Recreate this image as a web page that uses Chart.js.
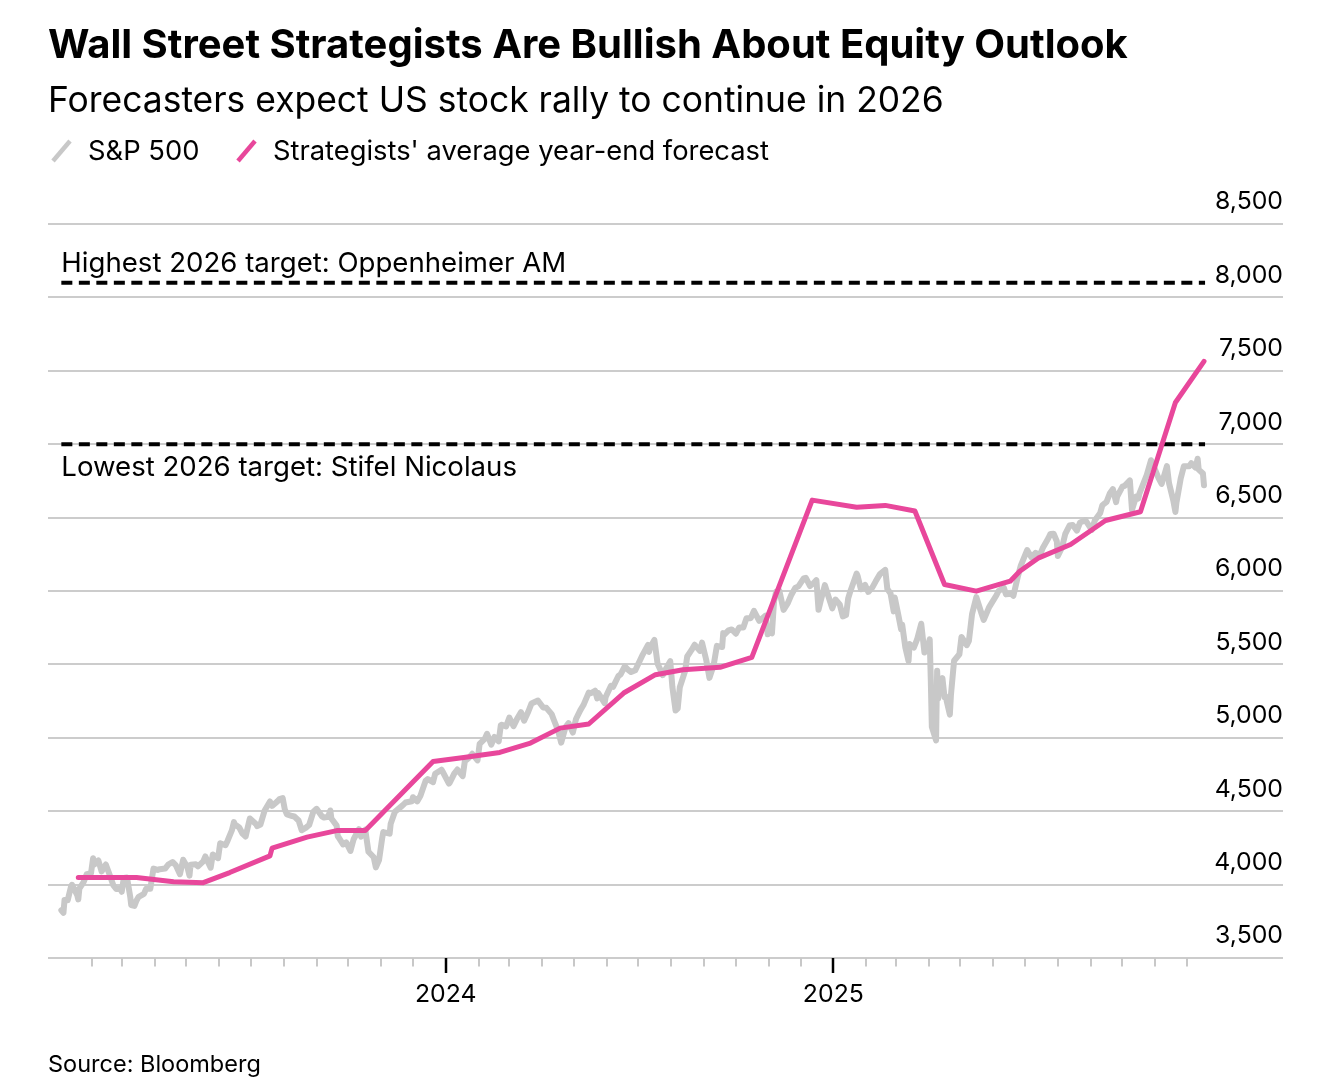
<!DOCTYPE html>
<html lang="en"><head><meta charset="utf-8"><title>Wall Street Strategists Are Bullish About Equity Outlook</title>
<script src="https://cdn.jsdelivr.net/npm/chart.js@4.4.1/dist/chart.umd.min.js"></script>
<style>
html,body{margin:0;padding:0;background:#fff}
body{width:1336px;height:1084px;position:relative;overflow:hidden;font-family:Inter,"Liberation Sans",sans-serif;color:#000}
#chartBox{position:absolute;left:0;top:0;width:1336px;height:1084px}
.txt{position:absolute;white-space:nowrap;line-height:1;margin:0;font-weight:400}
#title{font-weight:700}
#legIcons{position:absolute;left:0;top:0}
</style></head><body>
<div id="chartBox"><canvas id="c" width="1336" height="1084"></canvas></div>
<h1 class="txt" id="title">Wall Street Strategists Are Bullish About Equity Outlook</h1>
<div class="txt" id="subtitle">Forecasters expect US stock rally to continue in 2026</div>
<svg id="legIcons" width="1336" height="200">
  <line x1="53" y1="161" x2="70" y2="141" stroke="#c8c8c8" stroke-width="4.5"/>
  <line x1="238" y1="161" x2="255" y2="141" stroke="#e8479b" stroke-width="4.5"/>
</svg>
<div class="txt" id="leg1">S&amp;P 500</div>
<div class="txt" id="leg2">Strategists' average year-end forecast</div>
<div class="txt" id="source">Source: Bloomberg</div>
<script>
// ---------------- DATA ----------------
const spDates = [
'2023-01-03','2023-01-05','2023-01-06','2023-01-09','2023-01-12','2023-01-13','2023-01-18','2023-01-19','2023-01-20','2023-01-24','2023-01-27','2023-01-31',
'2023-02-02','2023-02-03','2023-02-07','2023-02-10','2023-02-14','2023-02-17','2023-02-21','2023-02-24','2023-02-28',
'2023-03-01','2023-03-03','2023-03-06','2023-03-09','2023-03-10','2023-03-13','2023-03-15','2023-03-17','2023-03-22','2023-03-24','2023-03-28','2023-03-31',
'2023-04-04','2023-04-06','2023-04-11','2023-04-14','2023-04-18','2023-04-21','2023-04-25','2023-04-28',
'2023-05-02','2023-05-04','2023-05-05','2023-05-10','2023-05-12','2023-05-17','2023-05-19','2023-05-24','2023-05-26','2023-05-31',
'2023-06-02','2023-06-07','2023-06-09','2023-06-13','2023-06-15','2023-06-16','2023-06-20','2023-06-23','2023-06-26','2023-06-30',
'2023-07-06','2023-07-07','2023-07-10','2023-07-14','2023-07-19','2023-07-21','2023-07-26','2023-07-28','2023-07-31',
'2023-08-02','2023-08-04','2023-08-09','2023-08-11','2023-08-15','2023-08-18','2023-08-22','2023-08-25','2023-08-29',
'2023-09-01','2023-09-06','2023-09-08','2023-09-12','2023-09-14','2023-09-15','2023-09-20','2023-09-21','2023-09-22','2023-09-26','2023-09-29',
'2023-10-03','2023-10-06','2023-10-11','2023-10-13','2023-10-17','2023-10-20','2023-10-25','2023-10-27','2023-10-30',
'2023-11-02','2023-11-03','2023-11-09','2023-11-10','2023-11-14','2023-11-17','2023-11-21','2023-11-24','2023-11-30',
'2023-12-01','2023-12-05','2023-12-08','2023-12-13','2023-12-15','2023-12-20','2023-12-22','2023-12-28','2023-12-29',
'2024-01-04','2024-01-05','2024-01-09','2024-01-12','2024-01-17','2024-01-19','2024-01-23','2024-01-26','2024-01-31',
'2024-02-02','2024-02-07','2024-02-09','2024-02-13','2024-02-16','2024-02-20','2024-02-22','2024-02-23','2024-02-27',
'2024-03-01','2024-03-05','2024-03-08','2024-03-12','2024-03-15','2024-03-19','2024-03-22','2024-03-28',
'2024-04-02','2024-04-05','2024-04-10','2024-04-12','2024-04-16','2024-04-19','2024-04-23','2024-04-26','2024-04-30',
'2024-05-03','2024-05-07','2024-05-10','2024-05-15','2024-05-17','2024-05-21','2024-05-23','2024-05-24','2024-05-30','2024-05-31',
'2024-06-05','2024-06-07','2024-06-12','2024-06-14','2024-06-18','2024-06-21','2024-06-24','2024-06-28',
'2024-07-05','2024-07-10','2024-07-11','2024-07-12','2024-07-16','2024-07-19','2024-07-24','2024-07-26','2024-07-31',
'2024-08-02','2024-08-05','2024-08-07','2024-08-09','2024-08-14','2024-08-16','2024-08-20','2024-08-23','2024-08-28','2024-08-30',
'2024-09-03','2024-09-06','2024-09-10','2024-09-13','2024-09-18','2024-09-19','2024-09-20','2024-09-24','2024-09-27',
'2024-10-01','2024-10-04','2024-10-08','2024-10-11','2024-10-15','2024-10-18','2024-10-23','2024-10-25','2024-10-29','2024-10-31',
'2024-11-01','2024-11-04','2024-11-06','2024-11-08','2024-11-11','2024-11-15','2024-11-19','2024-11-22','2024-11-26','2024-11-29',
'2024-12-04','2024-12-06','2024-12-10','2024-12-13','2024-12-16','2024-12-18','2024-12-20','2024-12-24','2024-12-27','2024-12-31',
'2025-01-03','2025-01-07','2025-01-10','2025-01-13','2025-01-15','2025-01-17','2025-01-23','2025-01-24','2025-01-27','2025-01-31',
'2025-02-03','2025-02-07','2025-02-10','2025-02-14','2025-02-19','2025-02-21','2025-02-24','2025-02-27','2025-02-28',
'2025-03-03','2025-03-06','2025-03-07','2025-03-10','2025-03-13','2025-03-14','2025-03-18','2025-03-21','2025-03-25','2025-03-28','2025-03-31',
'2025-04-02','2025-04-03','2025-04-04','2025-04-08','2025-04-09','2025-04-10','2025-04-11','2025-04-14','2025-04-16','2025-04-17','2025-04-21','2025-04-22','2025-04-25','2025-04-30',
'2025-05-02','2025-05-07','2025-05-09','2025-05-12','2025-05-16','2025-05-21','2025-05-23','2025-05-28','2025-05-30',
'2025-06-04','2025-06-06','2025-06-11','2025-06-13','2025-06-18','2025-06-20','2025-06-24','2025-06-27',
'2025-07-03','2025-07-07','2025-07-11','2025-07-15','2025-07-18','2025-07-23','2025-07-25','2025-07-28','2025-07-31',
'2025-08-01','2025-08-05','2025-08-08','2025-08-12','2025-08-15','2025-08-19','2025-08-22','2025-08-27','2025-08-29',
'2025-09-02','2025-09-05','2025-09-10','2025-09-12','2025-09-16','2025-09-19','2025-09-22','2025-09-25','2025-09-26',
'2025-10-01','2025-10-03','2025-10-08','2025-10-10','2025-10-14','2025-10-16','2025-10-17','2025-10-21','2025-10-24','2025-10-28','2025-10-31',
'2025-11-04','2025-11-07','2025-11-12','2025-11-14','2025-11-18','2025-11-20','2025-11-21','2025-11-25','2025-11-28',
'2025-12-03','2025-12-05','2025-12-09','2025-12-11','2025-12-12','2025-12-16','2025-12-17'
];
const spValues = [
3825,3808,3895,3893,3983,3999,3929,3899,3972,4017,4071,4077,
4180,4136,4164,4090,4137,4079,3997,3970,3970,
3951,4045,4048,3919,3861,3855,3892,3917,3937,3971,3971,4109,
4100,4105,4109,4137,4154,4133,4071,4169,
4119,4061,4136,4138,4124,4158,4192,4115,4205,4180,
4282,4268,4299,4369,4426,4409,4389,4348,4328,4450,
4411,4398,4409,4505,4566,4536,4567,4582,4589,
4513,4478,4467,4464,4437,4370,4388,4406,4497,
4516,4465,4457,4462,4505,4450,4402,4330,4320,4274,4288,
4229,4309,4377,4327,4374,4224,4186,4117,4167,
4318,4358,4347,4415,4496,4514,4538,4559,4568,
4595,4567,4604,4707,4719,4698,4755,4783,4770,
4688,4697,4756,4784,4739,4840,4865,4891,4846,
4959,4995,5027,4953,5006,4976,5087,5089,5078,
5137,5079,5124,5175,5117,5179,5234,5254,
5206,5204,5161,5123,5051,4967,5071,5100,5036,
5128,5187,5223,5308,5303,5321,5268,5305,5236,5278,
5354,5347,5421,5431,5487,5465,5448,5460,
5567,5633,5585,5615,5667,5505,5427,5459,5522,
5346,5186,5199,5344,5455,5554,5597,5634,5592,5648,
5529,5408,5496,5626,5618,5713,5703,5732,5738,
5709,5751,5751,5815,5815,5865,5797,5808,5832,5705,
5729,5712,5929,5995,6001,5871,5917,5969,6021,6032,
6086,6090,6034,6051,6074,5872,5931,6040,5971,5882,
5942,5909,5827,5836,5950,5997,6119,6101,6012,6041,
5994,6026,6066,6115,6144,6013,5983,5861,5955,
5850,5739,5770,5615,5522,5639,5615,5668,5777,5581,5612,
5671,5397,5074,4982,5457,5268,5363,5406,5276,5283,5158,5288,5525,5569,
5687,5631,5660,5844,5958,5845,5803,5889,5912,
5971,6000,6022,5977,5981,5968,6092,6173,
6279,6230,6260,6244,6297,6359,6389,6390,6339,
6238,6299,6389,6446,6450,6411,6467,6482,6460,
6416,6482,6532,6584,6607,6664,6694,6605,6644,
6711,6716,6753,6553,6644,6630,6664,6736,6792,6891,6840,
6771,6729,6851,6734,6617,6538,6603,6766,6849,
6850,6870,6840,6901,6827,6800,6721
];
const fcDates = [
'2023-01-19','2023-03-15','2023-04-19','2023-05-17','2023-06-11','2023-07-19','2023-07-21','2023-08-23','2023-09-20','2023-10-17','2023-12-20',
'2024-01-18','2024-02-21','2024-03-21','2024-04-18','2024-05-15','2024-06-17','2024-07-17','2024-08-12','2024-09-16','2024-10-16','2024-12-12',
'2025-01-23','2025-02-19','2025-03-19','2025-04-16','2025-05-16','2025-06-17','2025-06-26','2025-07-14','2025-08-13','2025-09-15','2025-10-18','2025-11-20','2025-12-17'
];
const fcValues = [
4048,4048,4020,4013,4082,4196,4248,4323,4368,4368,4839,
4866,4900,4964,5066,5094,5305,5430,5464,5480,5548,6619,
6571,6583,6545,6044,5999,6067,6135,6226,6317,6480,6540,7284,7564
];
const targetLabels = ['Highest 2026 target: Oppenheimer AM', 'Lowest 2026 target: Stifel Nicolaus'];
const targetValues = [8100, 7000];
const targetSpan = ['2023-01-03', '2025-12-18'];
const yTicks = [3500, 4000, 4500, 5000, 5500, 6000, 6500, 7000, 7500, 8000, 8500];
const yearLabels = ['2024', '2025'];

// ---------------- HELPERS ----------------
const DAY0 = Date.UTC(2023, 0, 1);
const toDay = s => { const [y, m, d] = s.split('-').map(Number); return (Date.UTC(y, m - 1, d) - DAY0) / 86400000; };
const monthTicks = [];
for (let y = 2023; y <= 2025; y++) for (let m = 0; m < 12; m++) {
  if (y === 2023 && m === 0) continue;
  monthTicks.push((Date.UTC(y, m, 1) - DAY0) / 86400000);
}
const isJan = v => new Date(DAY0 + v * 86400000).getUTCMonth() === 0;
const yearOf = v => String(new Date(DAY0 + v * 86400000).getUTCFullYear());

const FONT = 'Inter';
const mctx = document.createElement('canvas').getContext('2d');
function fitSize(text, weight, target) { mctx.font = `${weight} 100px ${FONT}`; return 100 * target / mctx.measureText(text).width; }

function place(id, left, baseline, target, weight, size) {
  const el = document.getElementById(id);
  const s = size || fitSize(el.textContent, weight, target);
  el.style.fontSize = s + 'px';
  el.style.left = left + 'px';
  el.style.top = (baseline - 0.864 * s) + 'px';
  return s;
}
place('title', 48, 59, 1080, 700);
place('subtitle', 48, 113, 896, 400);
const legSize = fitSize("Strategists' average year-end forecast", 400, 496);
place('leg1', 88, 160.5, 0, 400, legSize);
place('leg2', 273, 160.5, 0, 400, legSize);
place('source', 48, 1072, 213, 400);

const tickSize = fitSize('8,500', 400, 68);
const annSize = fitSize(targetLabels[0], 400, 505);

// ---------------- PLUGINS ----------------
const axisTicks = {
  id: 'axisTicks',
  afterDraw(chart) {
    const c = chart.ctx, xs = chart.scales.x, y0 = chart.chartArea.bottom;
    c.save();
    monthTicks.forEach(v => {
      const px = Math.round(xs.getPixelForValue(v));
      const major = isJan(v);
      c.strokeStyle = major ? '#000' : '#c8c8c8';
      c.lineWidth = major ? 2.5 : 2;
      c.beginPath(); c.moveTo(px, y0); c.lineTo(px, y0 + (major ? 15 : 8.5)); c.stroke();
    });
    c.restore();
  }
};
const targetText = {
  id: 'targetText',
  afterDatasetsDraw(chart) {
    const c = chart.ctx, xs = chart.scales.x, ys = chart.scales.y;
    c.save();
    c.font = `400 ${annSize}px ${FONT}`;
    c.fillStyle = '#000';
    c.textAlign = 'left';
    c.textBaseline = 'alphabetic';
    const x = xs.getPixelForValue(toDay(targetSpan[0]));
    c.fillText(targetLabels[0], x, ys.getPixelForValue(targetValues[0]) - 10.5);
    c.fillText(targetLabels[1], x, ys.getPixelForValue(targetValues[1]) + 32);
    c.restore();
  }
};

// ---------------- CHART ----------------
const spData = spDates.map((d, i) => ({ x: toDay(d), y: spValues[i] }));
const fcData = fcDates.map((d, i) => ({ x: toDay(d), y: fcValues[i] }));
const tgt = v => targetSpan.map(d => ({ x: toDay(d), y: v }));

new Chart(document.getElementById('c'), {
  type: 'line',
  data: {
    datasets: [
      { label: "Strategists' average year-end forecast", data: fcData, borderColor: '#e8479b', borderWidth: 5,
        pointRadius: 0, tension: 0, borderJoinStyle: 'round', borderCapStyle: 'round' },
      { label: targetLabels[0], data: tgt(targetValues[0]), borderColor: '#000', borderWidth: 4, borderDash: [11, 6.5], pointRadius: 0 },
      { label: targetLabels[1], data: tgt(targetValues[1]), borderColor: '#000', borderWidth: 4, borderDash: [11, 6.5], pointRadius: 0 },
      { label: 'S&P 500', data: spData, borderColor: '#c8c8c8', borderWidth: 6,
        pointRadius: 0, tension: 0, borderJoinStyle: 'round', borderCapStyle: 'round' }
    ]
  },
  options: {
    responsive: false,
    animation: false,
    events: [],
    layout: { padding: { left: 48, right: 53, top: 224, bottom: 66 } },
    plugins: { legend: { display: false }, title: { display: false }, tooltip: { enabled: false } },
    scales: {
      x: {
        type: 'linear', min: -10.6, max: 1155.6,
        grid: { display: false, drawTicks: false },
        border: { display: false },
        afterBuildTicks: s => { s.ticks = monthTicks.map(v => ({ value: v })); },
        afterFit: s => { s.height = 60; },
        ticks: {
          autoSkip: false, maxRotation: 0, minRotation: 0, padding: 22,
          color: '#000', font: { family: FONT, size: tickSize },
          callback: v => (isJan(v) && yearLabels.includes(yearOf(v))) ? yearOf(v) : ''
        }
      },
      y: {
        position: 'right', min: 3500, max: 8500,
        afterBuildTicks: s => { s.ticks = yTicks.map(v => ({ value: v })); },
        afterFit: s => { s.width = 0; },
        grid: { color: '#cccccc', lineWidth: 2, drawTicks: false },
        border: { display: false },
        ticks: {
          mirror: true, padding: 0, labelOffset: -22,
          color: '#000', font: { family: FONT, size: tickSize },
          callback: v => v.toLocaleString('en-US')
        }
      }
    }
  },
  plugins: [axisTicks, targetText]
});
</script>
</body></html>
